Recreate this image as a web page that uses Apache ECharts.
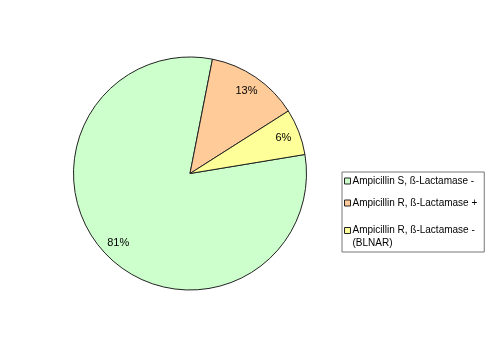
<!DOCTYPE html>
<html>
<head>
<meta charset="utf-8">
<script src="https://cdn.jsdelivr.net/npm/echarts@6/dist/echarts.min.js"></script>
<style>
html,body{margin:0;padding:0;background:#fff;}
#chart{width:500px;height:348px;}
</style>
</head>
<body>
<div id="chart"></div>
<script>
const categories = ['Ampicillin S, ß-Lactamase -', 'Ampicillin R, ß-Lactamase +', 'Ampicillin R, ß-Lactamase - (BLNAR)'];
const legendLines = [['Ampicillin S, ß-Lactamase -'], ['Ampicillin R, ß-Lactamase +'], ['Ampicillin R, ß-Lactamase -', '(BLNAR)']];
const values = [80.7, 12.9, 6.4];
const colors = ['#CCFFCC', '#FFCC99', '#FFFF99'];

const chart = echarts.init(document.getElementById('chart'), null, {renderer: 'canvas'});
const font = 'Liberation Sans, Arial, sans-serif';

const mainData = categories.map((c, i) => ({name: c, value: values[i], itemStyle: {color: colors[i]}}));
const labelData = categories.map((c, i) => ({name: c, value: values[i]}));

const legendText = {
  fontFamily: font, fontSize: 10, color: '#000', padding: [0, 0, 0, -3],
  rich: {
    a: {fontFamily: font, fontSize: 10, color: '#000', lineHeight: 12},
    b: {fontFamily: font, fontSize: 10, color: '#000', lineHeight: 1, height: 14, verticalAlign: 'top'}
  }
};
function legendFormatter(name) {
  const lines = legendLines[categories.indexOf(name)];
  if (lines.length === 1) return lines[0];
  return '{a|' + lines[0] + '}\n{b|' + lines[1] + '}';
}
const legendCommon = {
  orient: 'vertical',
  left: 342,
  itemGap: 12,
  itemWidth: 6,
  itemHeight: 6,
  icon: 'rect',
  selectedMode: false,
  itemStyle: {borderColor: '#222', borderWidth: 1},
  textStyle: legendText,
  formatter: legendFormatter
};

chart.setOption({
  animation: false,
  backgroundColor: '#fff',
  legend: [
    Object.assign({}, legendCommon, {
      top: 172,
      padding: [4, 7, 44, 2],
      borderColor: '#777',
      borderWidth: 1,
      data: categories.slice(0, 2)
    }),
    Object.assign({}, legendCommon, {
      top: 225,
      padding: [0, 7, 0, 2],
      borderWidth: 0,
      data: categories.slice(2)
    })
  ],
  series: [
    {
      type: 'pie',
      center: [190, 173.5],
      radius: 116.5,
      startAngle: 9.4,
      clockwise: true,
      silent: true,
      itemStyle: {borderColor: '#222', borderWidth: 1},
      label: {show: false},
      labelLine: {show: false},
      emphasis: {disabled: true},
      data: mainData
    },
    {
      type: 'pie',
      center: [190, 173.5],
      radius: [78, 116],
      startAngle: 9.4,
      clockwise: true,
      silent: true,
      itemStyle: {color: 'rgba(0,0,0,0)', borderWidth: 0},
      label: {
        show: true,
        position: 'inside',
        fontFamily: font,
        fontSize: 11,
        color: '#000',
        formatter: function (p) { return Math.round(p.percent) + '%'; }
      },
      labelLine: {show: false},
      emphasis: {disabled: true},
      data: labelData
    }
  ]
});
</script>
</body>
</html>
